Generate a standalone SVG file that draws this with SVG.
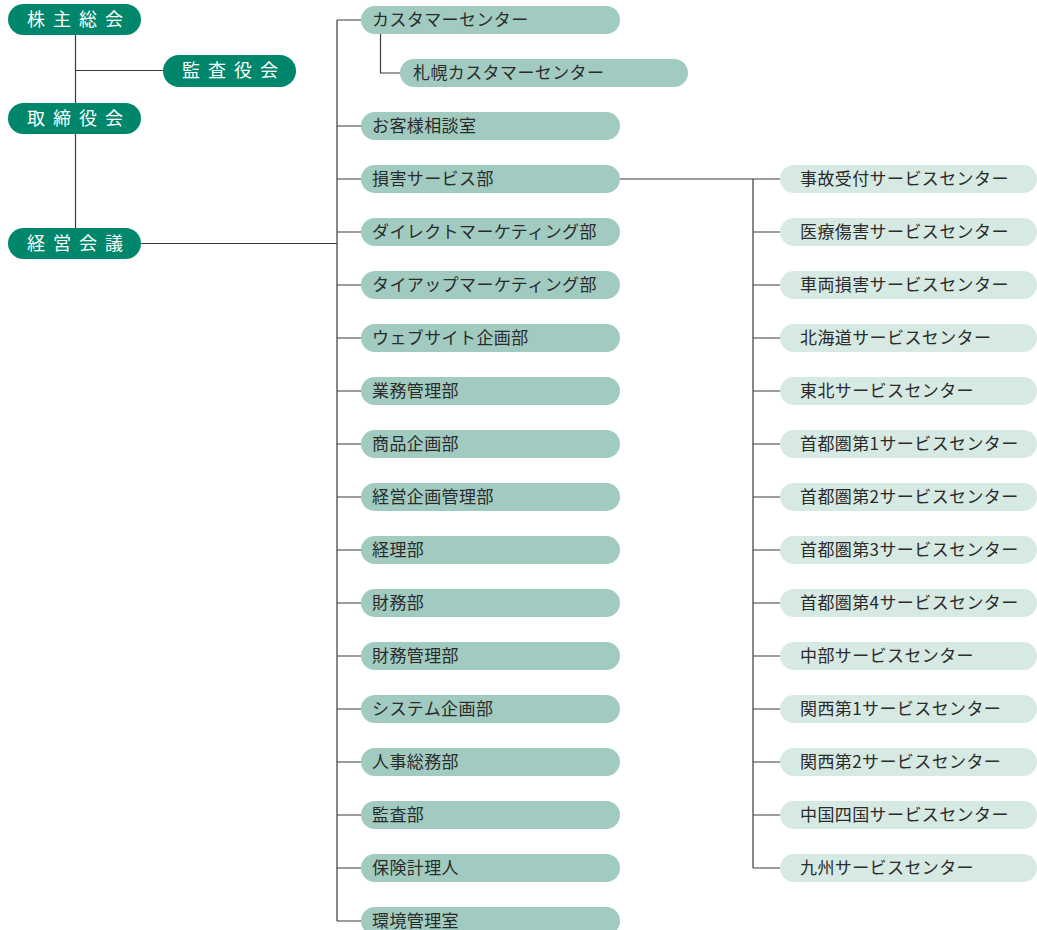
<svg xmlns="http://www.w3.org/2000/svg" width="1037" height="930" viewBox="0 0 1037 930">
<style>
.dk{fill:#00876b}
.md{fill:#a1cbc0}
.lt{fill:#d7e9e3}
.wt{fill:#ffffff;font-family:"Noto Sans CJK JP","Noto Sans",sans-serif;font-size:18px;letter-spacing:8px}
.tx{fill:#2b2b2b;font-family:"Noto Sans CJK JP","Noto Sans",sans-serif;font-size:17px;letter-spacing:0.4px}
.ln{stroke:#3a3a3a;stroke-width:1.2;fill:none}
</style>
<rect width="1037" height="930" fill="#ffffff"/>
<g id="connectors">
<path class="ln" d="M75.5 35V228M75.5 70.5H163M141 243.5H337M337 20V921M337 20H361M380.5 34V73H400M620 179H780M753 179V868"/>
<path class="ln" d="M337 126H361M337 179H361M337 232H361M337 285H361M337 338H361M337 391H361M337 444H361M337 497H361M337 550H361M337 603H361M337 656H361M337 709H361M337 762H361M337 815H361M337 868H361M337 921H361"/>
<path class="ln" d="M753 232H781M753 285H781M753 338H781M753 391H781M753 444H781M753 497H781M753 550H781M753 603H781M753 656H781M753 709H781M753 762H781M753 815H781M753 868H781"/>
</g>
<g id="n-kabunushi"><rect class="dk" x="8" y="4" width="133" height="31" rx="15.5"/><text class="wt" x="27" y="26">株主総会</text></g>
<g id="n-kansayakukai"><rect class="dk" x="163" y="55" width="133" height="32" rx="16"/><text class="wt" x="182" y="77">監査役会</text></g>
<g id="n-torishimari"><rect class="dk" x="8" y="103" width="133" height="31" rx="15.5"/><text class="wt" x="27" y="125">取締役会</text></g>
<g id="n-keiei"><rect class="dk" x="8" y="228" width="133" height="31" rx="15.5"/><text class="wt" x="27" y="250">経営会議</text></g>

<g id="n-c1"><rect class="md" x="361" y="6" width="259" height="28" rx="14"/><text class="tx" x="372" y="26">カスタマーセンター</text></g>
<g id="n-c2"><rect class="md" x="400" y="59" width="288" height="28" rx="14"/><text class="tx" x="413" y="79">札幌カスタマーセンター</text></g>
<g id="n-c3"><rect class="md" x="361" y="112" width="259" height="28" rx="14"/><text class="tx" x="372" y="132">お客様相談室</text></g>
<g id="n-c4"><rect class="md" x="361" y="165" width="259" height="28" rx="14"/><text class="tx" x="372" y="185">損害サービス部</text></g>
<g id="n-c5"><rect class="md" x="361" y="218" width="259" height="28" rx="14"/><text class="tx" x="372" y="238">ダイレクトマーケティング部</text></g>
<g id="n-c6"><rect class="md" x="361" y="271" width="259" height="28" rx="14"/><text class="tx" x="372" y="291">タイアップマーケティング部</text></g>
<g id="n-c7"><rect class="md" x="361" y="324" width="259" height="28" rx="14"/><text class="tx" x="372" y="344">ウェブサイト企画部</text></g>
<g id="n-c8"><rect class="md" x="361" y="377" width="259" height="28" rx="14"/><text class="tx" x="372" y="397">業務管理部</text></g>
<g id="n-c9"><rect class="md" x="361" y="430" width="259" height="28" rx="14"/><text class="tx" x="372" y="450">商品企画部</text></g>
<g id="n-c10"><rect class="md" x="361" y="483" width="259" height="28" rx="14"/><text class="tx" x="372" y="503">経営企画管理部</text></g>
<g id="n-c11"><rect class="md" x="361" y="536" width="259" height="28" rx="14"/><text class="tx" x="372" y="556">経理部</text></g>
<g id="n-c12"><rect class="md" x="361" y="589" width="259" height="28" rx="14"/><text class="tx" x="372" y="609">財務部</text></g>
<g id="n-c13"><rect class="md" x="361" y="642" width="259" height="28" rx="14"/><text class="tx" x="372" y="662">財務管理部</text></g>
<g id="n-c14"><rect class="md" x="361" y="695" width="259" height="28" rx="14"/><text class="tx" x="372" y="715">システム企画部</text></g>
<g id="n-c15"><rect class="md" x="361" y="748" width="259" height="28" rx="14"/><text class="tx" x="372" y="768">人事総務部</text></g>
<g id="n-c16"><rect class="md" x="361" y="801" width="259" height="28" rx="14"/><text class="tx" x="372" y="821">監査部</text></g>
<g id="n-c17"><rect class="md" x="361" y="854" width="259" height="28" rx="14"/><text class="tx" x="372" y="874">保険計理人</text></g>
<g id="n-c18"><rect class="md" x="361" y="907" width="259" height="28" rx="14"/><text class="tx" x="372" y="927">環境管理室</text></g>

<g id="n-s1"><rect class="lt" x="780" y="165" width="257" height="28" rx="14"/><text class="tx" x="800" y="185">事故受付サービスセンター</text></g>
<g id="n-s2"><rect class="lt" x="780" y="218" width="257" height="28" rx="14"/><text class="tx" x="800" y="238">医療傷害サービスセンター</text></g>
<g id="n-s3"><rect class="lt" x="780" y="271" width="257" height="28" rx="14"/><text class="tx" x="800" y="291">車両損害サービスセンター</text></g>
<g id="n-s4"><rect class="lt" x="780" y="324" width="257" height="28" rx="14"/><text class="tx" x="800" y="344">北海道サービスセンター</text></g>
<g id="n-s5"><rect class="lt" x="780" y="377" width="257" height="28" rx="14"/><text class="tx" x="800" y="397">東北サービスセンター</text></g>
<g id="n-s6"><rect class="lt" x="780" y="430" width="257" height="28" rx="14"/><text class="tx" x="800" y="450">首都圏第1サービスセンター</text></g>
<g id="n-s7"><rect class="lt" x="780" y="483" width="257" height="28" rx="14"/><text class="tx" x="800" y="503">首都圏第2サービスセンター</text></g>
<g id="n-s8"><rect class="lt" x="780" y="536" width="257" height="28" rx="14"/><text class="tx" x="800" y="556">首都圏第3サービスセンター</text></g>
<g id="n-s9"><rect class="lt" x="780" y="589" width="257" height="28" rx="14"/><text class="tx" x="800" y="609">首都圏第4サービスセンター</text></g>
<g id="n-s10"><rect class="lt" x="780" y="642" width="257" height="28" rx="14"/><text class="tx" x="800" y="662">中部サービスセンター</text></g>
<g id="n-s11"><rect class="lt" x="780" y="695" width="257" height="28" rx="14"/><text class="tx" x="800" y="715">関西第1サービスセンター</text></g>
<g id="n-s12"><rect class="lt" x="780" y="748" width="257" height="28" rx="14"/><text class="tx" x="800" y="768">関西第2サービスセンター</text></g>
<g id="n-s13"><rect class="lt" x="780" y="801" width="257" height="28" rx="14"/><text class="tx" x="800" y="821">中国四国サービスセンター</text></g>
<g id="n-s14"><rect class="lt" x="780" y="854" width="257" height="28" rx="14"/><text class="tx" x="800" y="874">九州サービスセンター</text></g>
</svg>
